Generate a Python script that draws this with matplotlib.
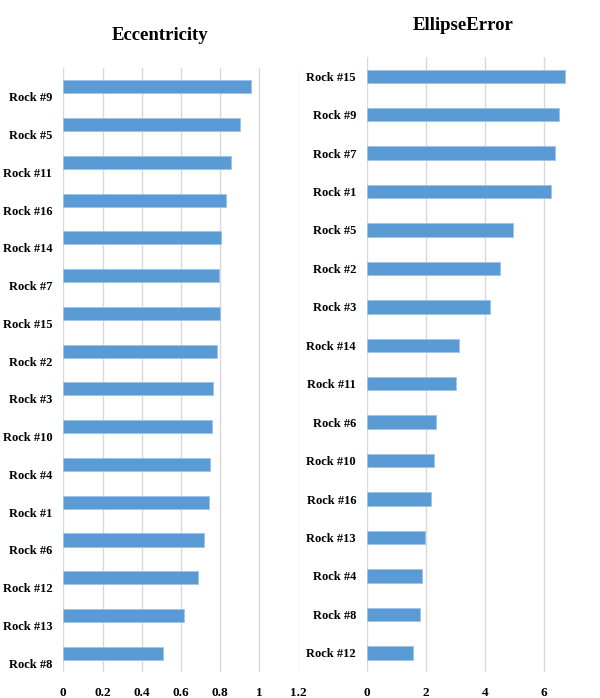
import matplotlib.pyplot as plt
from matplotlib.transforms import ScaledTranslation

plt.rcParams['font.family'] = ['Liberation Serif', 'DejaVu Serif']
plt.rcParams['font.weight'] = 'bold'

ecc_labels = ['Rock #9', 'Rock #5', 'Rock #11', 'Rock #16', 'Rock #14', 'Rock #7',
              'Rock #15', 'Rock #2', 'Rock #3', 'Rock #10', 'Rock #4', 'Rock #1',
              'Rock #6', 'Rock #12', 'Rock #13', 'Rock #8']
ecc_values = [0.959, 0.899, 0.853, 0.831, 0.804, 0.796, 0.797, 0.786,
              0.763, 0.758, 0.750, 0.745, 0.719, 0.687, 0.618, 0.509]

err_labels = ['Rock #15', 'Rock #9', 'Rock #7', 'Rock #1', 'Rock #5', 'Rock #2',
              'Rock #3', 'Rock #14', 'Rock #11', 'Rock #6', 'Rock #10', 'Rock #16',
              'Rock #13', 'Rock #4', 'Rock #8', 'Rock #12']
err_values = [6.70, 6.51, 6.36, 6.24, 4.95, 4.49, 4.15, 3.10,
              3.01, 2.33, 2.27, 2.17, 1.96, 1.86, 1.78, 1.56]

ecc_ticks = [0, 0.2, 0.4, 0.6, 0.8, 1, 1.2]
ecc_ticklabels = ['0', '0.2', '0.4', '0.6', '0.8', '1', '1.2']
err_ticks = [0, 2, 4, 6]

BLUE = '#5B9BD5'
GRID = '#d9d9d9'

fig = plt.figure(figsize=(6, 6.98), dpi=100)
ax1 = fig.add_axes([0.1055, 0.0372, 0.3935, 0.8654])
ax2 = fig.add_axes([0.612, 0.0372, 0.3786, 0.8811])


def style(ax, labels, values, ticks, xmax):
    n = len(labels)
    pos = list(range(n))
    ax.barh(pos, values, height=0.35, color=BLUE, edgecolor='#9dc3e6', linewidth=0.6, zorder=3)
    ax.set_ylim(n - 0.5, -0.5)
    ax.set_xlim(0, xmax)
    ax.set_yticks(pos)
    ax.set_yticklabels(labels, fontsize=9, fontweight='bold')
    ax.set_xticks(ticks)
    ax.grid(axis='x', color=GRID, linewidth=1, zorder=0)
    ax.tick_params(length=0)
    ax.tick_params(axis='x', pad=11, labelsize=9.5)
    ax.tick_params(axis='y', pad=8)
    for s in ax.spines.values():
        s.set_visible(False)


style(ax1, ecc_labels, ecc_values, ecc_ticks, 1.204)
ax1.set_xticklabels(ecc_ticklabels, fontweight='bold')
# left panel labels sit a little below the bars
off = ScaledTranslation(0, -10 / 100, fig.dpi_scale_trans)
for t in ax1.get_yticklabels():
    t.set_transform(t.get_transform() + off)

style(ax2, err_labels, err_values, err_ticks, 7.7)
ax2.set_xticklabels([str(t) for t in err_ticks], fontweight='bold')

fig.text(160 / 600, 1 - 35 / 698, 'Eccentricity', ha='center', va='center',
         fontsize=13.5, fontweight='bold')
fig.text(463 / 600, 1 - 25 / 698, 'EllipseError', ha='center', va='center',
         fontsize=13.5, fontweight='bold')

fig.savefig('out.png', dpi=100)
